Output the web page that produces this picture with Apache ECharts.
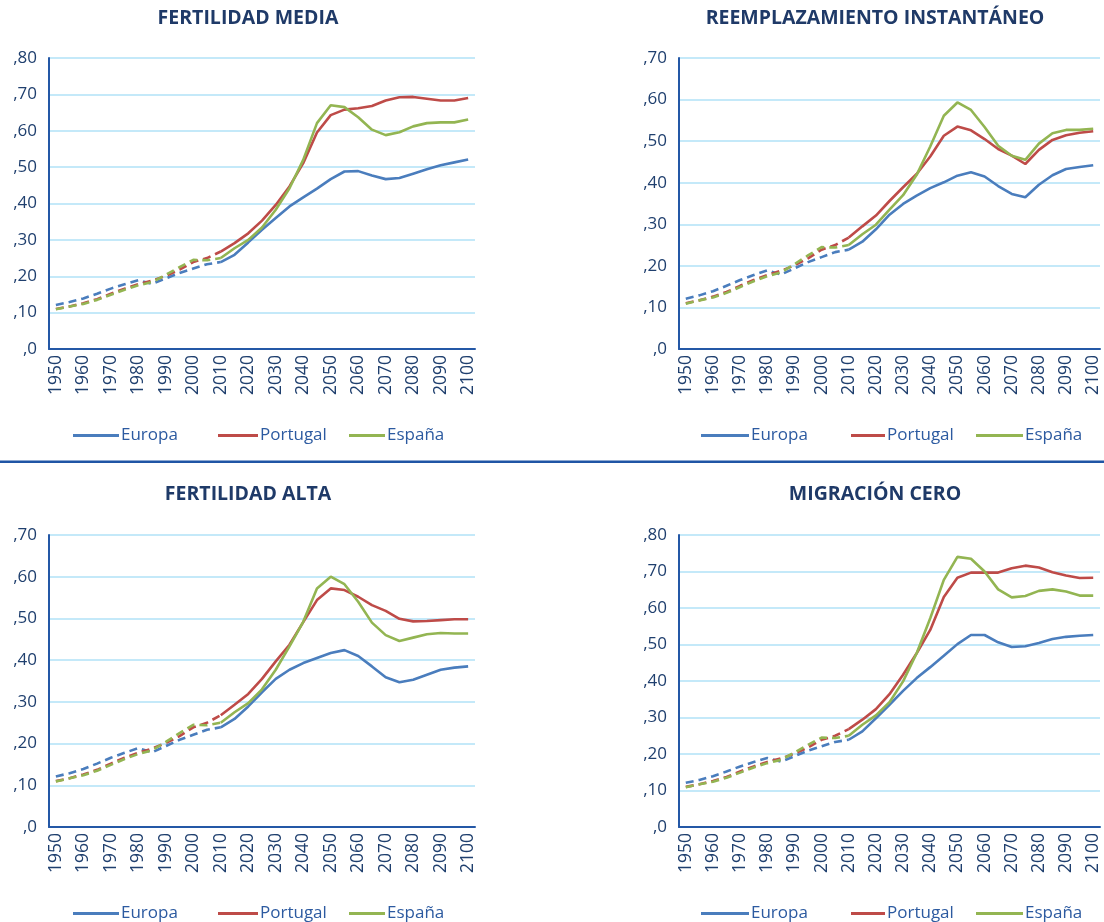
<!DOCTYPE html>
<html>
<head>
<meta charset="utf-8">
<script src="https://cdn.jsdelivr.net/npm/echarts@6/dist/echarts.min.js"></script>
<style>
html,body{margin:0;padding:0;background:#fff;}
#chart{width:1104px;height:922px;}
</style>
</head>
<body>
<div id="chart"></div>
<script>
// Categories (5-year steps)
var years = ['1950','1955','1960','1965','1970','1975','1980','1985','1990','1995','2000','2005','2010',
  '2015','2020','2025','2030','2035','2040','2045','2050','2055','2060','2065','2070','2075','2080','2085','2090','2095','2100'];

var seriesNames = ['Europa','Portugal','España'];
var panelTitles = ['FERTILIDAD MEDIA','REEMPLAZAMIENTO INSTANTÁNEO','FERTILIDAD ALTA','MIGRACIÓN CERO'];
var panelMax = [0.8, 0.7, 0.7, 0.8];

// Historical values 1950–2010 (dashed)
var histEuropa   = [0.121,0.129,0.139,0.152,0.166,0.178,0.189,0.179,0.194,0.209,0.221,0.233,0.239];
var histPortugal = [0.110,0.117,0.126,0.137,0.152,0.166,0.178,0.188,0.201,0.218,0.239,0.250,0.268];
var histEspana   = [0.109,0.117,0.124,0.135,0.149,0.163,0.175,0.184,0.204,0.225,0.245,0.244,0.250];

// Projections 2015–2100 (solid)
var mediaEuropa   = [0.259,0.293,0.328,0.360,0.392,0.417,0.441,0.467,0.488,0.489,0.477,0.467,0.470,0.482,0.494,0.505,0.513,0.521];
var mediaPortugal = [0.291,0.318,0.353,0.396,0.447,0.511,0.595,0.643,0.658,0.662,0.668,0.683,0.692,0.693,0.688,0.683,0.683,0.690];
var mediaEspana   = [0.277,0.300,0.334,0.383,0.442,0.520,0.621,0.670,0.665,0.637,0.603,0.588,0.596,0.612,0.621,0.623,0.623,0.631];

var reempEuropa   = [0.258,0.288,0.323,0.349,0.369,0.387,0.401,0.417,0.425,0.415,0.392,0.373,0.365,0.395,0.418,0.433,0.438,0.442];
var reempPortugal = [0.295,0.321,0.356,0.389,0.421,0.463,0.513,0.535,0.526,0.505,0.481,0.465,0.445,0.479,0.503,0.514,0.520,0.524];
var reempEspana   = [0.276,0.299,0.335,0.370,0.419,0.487,0.561,0.593,0.575,0.534,0.489,0.465,0.455,0.494,0.519,0.527,0.527,0.530];

var altaEuropa   = [0.259,0.289,0.323,0.355,0.377,0.393,0.405,0.417,0.424,0.410,0.385,0.359,0.347,0.353,0.365,0.377,0.382,0.385];
var altaPortugal = [0.293,0.319,0.355,0.397,0.437,0.491,0.544,0.572,0.568,0.552,0.532,0.518,0.499,0.493,0.494,0.496,0.498,0.498];
var altaEspana   = [0.275,0.297,0.330,0.377,0.433,0.492,0.572,0.600,0.582,0.540,0.490,0.460,0.446,0.454,0.462,0.465,0.464,0.464];

var ceroEuropa   = [0.262,0.298,0.335,0.373,0.408,0.438,0.469,0.501,0.526,0.526,0.506,0.493,0.495,0.504,0.515,0.521,0.524,0.526];
var ceroPortugal = [0.294,0.323,0.364,0.417,0.476,0.540,0.630,0.683,0.697,0.697,0.697,0.709,0.716,0.711,0.698,0.689,0.682,0.683];
var ceroEspana   = [0.280,0.306,0.342,0.399,0.476,0.572,0.677,0.740,0.735,0.700,0.651,0.629,0.633,0.647,0.651,0.645,0.634,0.634];

var hist = [histEuropa, histPortugal, histEspana];
var proj = [
  [mediaEuropa, mediaPortugal, mediaEspana],
  [reempEuropa, reempPortugal, reempEspana],
  [altaEuropa, altaPortugal, altaEspana],
  [ceroEuropa, ceroPortugal, ceroEspana]
];

var colors = ['#4a7dbd','#be4b48','#93b552'];
var FONT = '"Open Sans", "Noto Sans", sans-serif';
var labelColor = '#1f3f6e';
var axisBlue = '#2458a6';

var grids = [
  {left:49, top:58, width:426, height:291},
  {left:679, top:58, width:421, height:291},
  {left:49, top:535, width:426, height:292},
  {left:679, top:535, width:421, height:292}
];

var xAxes = [], yAxes = [], series = [], legends = [], graphics = [];

var titleCenters = [[248,18],[875,18],[248,494],[875,494]];
var legendTop = [422, 422, 900, 900];
var legendLefts = [[68,213,344],[696,846,971],[68,213,344],[696,846,971]];
var legendWidths = [[46,40,36],[48,34,47],[46,40,36],[48,34,47]];

for (var p = 0; p < 4; p++) {
  xAxes.push({
    type:'category', gridIndex:p, data:years, boundaryGap:true,
    axisLine:{lineStyle:{color:axisBlue, width:2}},
    axisTick:{show:false},
    axisLabel:{interval:1, rotate:90, fontSize:17.5, color:labelColor, margin:6, fontFamily:FONT}
  });
  yAxes.push({
    type:'value', gridIndex:p, min:0, max:panelMax[p], interval:0.1,
    axisLine:{show:true, lineStyle:{color:axisBlue, width:2}},
    axisTick:{show:false},
    splitLine:{lineStyle:{color:'#c4e9f9', width:2}},
    axisLabel:{fontSize:17, color:labelColor, margin:12, fontFamily:FONT,
      formatter:function(v){ var n = Math.round(v*100); return n === 0 ? ',0' : ',' + n; }}
  });
  for (var s = 0; s < 3; s++) {
    var solid = [], dashed = [];
    for (var i = 0; i < years.length; i++) {
      if (i < 12) { dashed.push(hist[s][i]); solid.push(null); }
      else if (i === 12) { dashed.push(hist[s][i]); solid.push(hist[s][i]); }
      else { dashed.push(null); solid.push(proj[p][s][i-13]); }
    }
    series.push({
      name:seriesNames[s], type:'line', xAxisIndex:p, yAxisIndex:p, data:solid,
      symbol:'none', color:colors[s], lineStyle:{width:2.6, color:colors[s]}, z:3+s
    });
    series.push({
      name:seriesNames[s], type:'line', xAxisIndex:p, yAxisIndex:p, data:dashed,
      symbol:'none', color:colors[s], lineStyle:{width:2.6, color:colors[s], type:[8,5]}, z:3+s
    });
    legends.push({
      data:[seriesNames[s]], left:legendLefts[p][s], top:legendTop[p],
      icon:'rect', itemWidth:legendWidths[p][s], itemHeight:3, itemGap:4,
      textStyle:{fontSize:17, color:'#2c5aa0', fontFamily:FONT, padding:[0,0,0,-3]}
    });
  }
  graphics.push({
    type:'text', x:titleCenters[p][0], y:titleCenters[p][1],
    style:{text:panelTitles[p], fill:'#1f3a68', font:'bold 19.5px ' + FONT, textAlign:'center', textVerticalAlign:'middle'}
  });
}

graphics.push({type:'rect', shape:{x:0, y:460.5, width:1104, height:2.6}, style:{fill:'#1f55a5'}});

var chart = echarts.init(document.getElementById('chart'), null, {renderer:'canvas'});
chart.setOption({
  animation:false,
  backgroundColor:'#ffffff',
  grid:grids,
  xAxis:xAxes,
  yAxis:yAxes,
  legend:legends,
  series:series,
  graphic:graphics
});
</script>
</body>
</html>
